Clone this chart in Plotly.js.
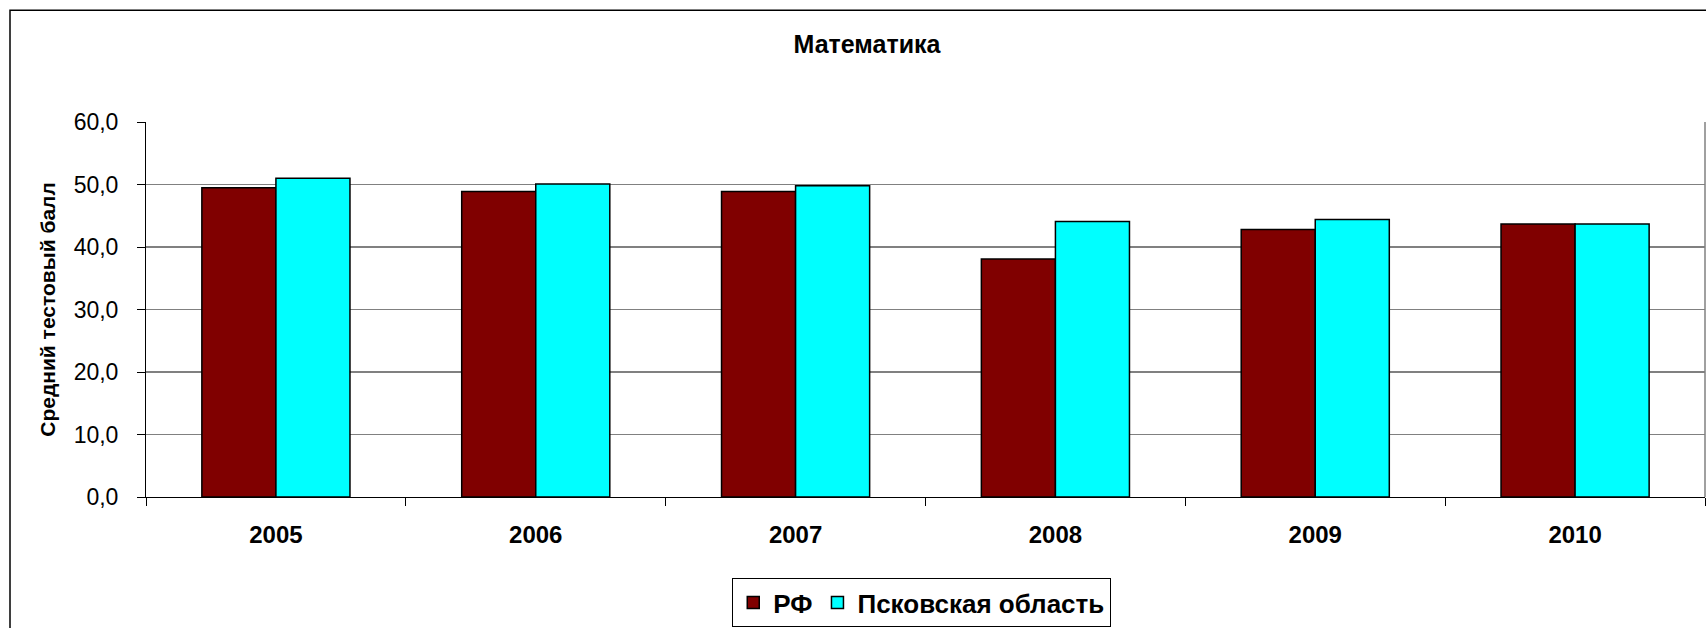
<!DOCTYPE html>
<html>
<head>
<meta charset="utf-8">
<script src="https://cdn.plot.ly/plotly-3.0.1.min.js"></script>
<style>
html,body{margin:0;padding:0;background:#fff;}
#chart{width:1706px;height:628px;}
</style>
</head>
<body>
<div id="chart"></div>
<script>
const years = ['2005', '2006', '2007', '2008', '2009', '2010'];
const rfValues = [49.5, 48.9, 48.9, 38.1, 42.8, 43.7];
const pskovValues = [51.0, 50.1, 49.8, 44.1, 44.4, 43.7];
const seriesNames = ['РФ', 'Псковская область'];
const yTicks = [0, 10, 20, 30, 40, 50, 60];

const FONT = 'Arial, "Liberation Sans", sans-serif';

const traces = [
  {type: 'bar', x: years, y: rfValues, name: seriesNames[0],
   marker: {color: '#800000', line: {color: '#000', width: 1.5}}},
  {type: 'bar', x: years, y: pskovValues, name: seriesNames[1],
   marker: {color: '#00FFFF', line: {color: '#000', width: 1.5}}}
];

const layout = {
  width: 1706, height: 628,
  paper_bgcolor: '#fff', plot_bgcolor: '#fff',
  separators: ', ',
  font: {family: FONT, color: '#000'},
  margin: {l: 146, r: 1, t: 122, b: 131, autoexpand: false},
  barmode: 'group', bargap: 0.43, bargroupgap: 0,
  title: {text: '<b>Математика</b>', font: {size: 25, family: FONT, color: '#000'},
          x: 867/1706, xref: 'container', xanchor: 'center',
          y: 1 - 44/628, yref: 'container', yanchor: 'middle'},
  xaxis: {type: 'category', showgrid: false, showline: true, linecolor: '#000', linewidth: 1,
          ticks: 'outside', tickson: 'boundaries', ticklen: 8, tickcolor: '#000', tickwidth: 1,
          tickfont: {size: 24, family: FONT, color: '#000', weight: 'bold'},
          ticklabelstandoff: 16, fixedrange: true, automargin: false},
  yaxis: {range: [0, 60], tickvals: yTicks, tickformat: '.1f',
          showgrid: true, gridcolor: '#808080', gridwidth: 1.5, zeroline: false,
          showline: true, linecolor: '#000', linewidth: 1,
          ticks: 'outside', ticklen: 8, tickcolor: '#000', tickwidth: 1,
          tickfont: {size: 23, family: FONT, color: '#000'},
          ticklabelstandoff: 14, automargin: false,
          title: {text: '<b>Средний тестовый балл</b>', font: {size: 21, family: FONT, color: '#000'}, standoff: 12}},
  showlegend: true,
  legend: {orientation: 'h', x: 0.4976, xanchor: 'center', y: -0.216, yanchor: 'top',
           bordercolor: '#000', borderwidth: 1, bgcolor: '#fff',
           font: {size: 26, family: FONT, color: '#000', weight: 'bold'},
           itemwidth: 30, traceorder: 'normal'},
  shapes: [
    {type: 'rect', xref: 'paper', yref: 'paper', x0: (10-146)/1559, x1: 1.2, y0: -0.6, y1: (497-10.7)/374.7,
     line: {color: '#000', width: 1.5}, fillcolor: 'rgba(0,0,0,0)', layer: 'below'},
    {type: 'line', xref: 'paper', yref: 'paper', x0: 1, x1: 1, y0: 0, y1: 1,
     line: {color: '#808080', width: 1.5}}
  ]
};

Plotly.newPlot('chart', traces, layout, {displayModeBar: false, staticPlot: true});
</script>
</body>
</html>
